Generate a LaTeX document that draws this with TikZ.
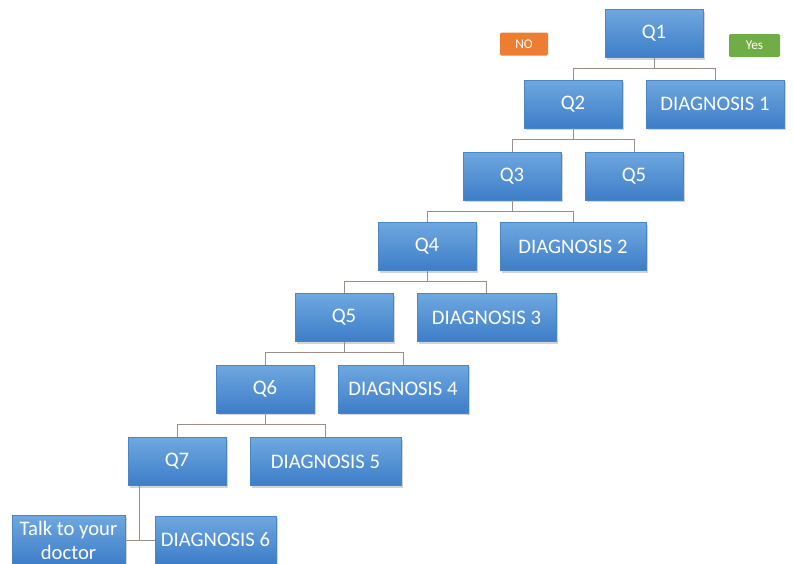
\documentclass[tikz,border=0pt]{standalone}
\usepackage{fontspec}
\setmainfont{Carlito}
\usetikzlibrary{shadows}

\definecolor{boxtop}{HTML}{6FA8E0}
\definecolor{boxbot}{HTML}{3D7DC8}
\definecolor{boxline}{HTML}{4A86C5}
\definecolor{noorange}{HTML}{ED7D31}
\definecolor{yesgreen}{HTML}{70AD47}
\definecolor{wire}{HTML}{9A9088}

\begin{document}
\begin{tikzpicture}[x=0.75pt,y=-0.75pt]
  % one unit = one pixel of the original picture
  \def\px{0.75pt}
  \tikzset{
    box/.style  = {draw=boxline, line width=0.4pt, top color=boxtop, bottom color=boxbot,
                   minimum width=#1*\px, minimum height=48*\px, inner sep=0pt,
                   text=white, font=\fontsize{15.5}{18}\selectfont, align=center,
                   drop shadow={shadow xshift=1.5pt, shadow yshift=-1.5pt, opacity=0.35}},
    box/.default = 98,
    tag/.style  = {fill=#1, minimum height=23*\px, inner sep=0pt, rounded corners=1pt,
                   text=white, font=\fontsize{10}{12}\selectfont},
    link/.style = {draw=wire, line width=0.6pt}
  }
  \useasboundingbox (0,0) rectangle (793,564);

  % ========= top: Q1 with the two answer tags =========
  \node[box] (q1) at (654,33.5) {Q1};
  \node[tag=noorange, minimum width=48*\px] (no) at (524,44) {NO};
  \node[tag=yesgreen, minimum width=51*\px] (yes) at (754.5,45.5) {Yes};

  % ========= the staircase of questions and diagnoses =========
  \node[box]      (q2) at (573,104)   {Q2};
  \node[box=138]  (d1) at (715,104)   {DIAGNOSIS 1};
  \node[box]      (q3) at (512,176)   {Q3};
  \node[box]      (q5b) at (634,176)  {Q5};
  \node[box]      (q4) at (427,246.5) {Q4};
  \node[box=146]  (d2) at (573,246.5) {DIAGNOSIS 2};
  \node[box]      (q5) at (344,317.5) {Q5};
  \node[box=139]  (d3) at (486.5,317.5) {DIAGNOSIS 3};
  \node[box]      (q6) at (265,389)   {Q6};
  \node[box=130]  (d4) at (403,389)   {DIAGNOSIS 4};
  \node[box]      (q7) at (177,461.5) {Q7};
  \node[box=151]  (d5) at (325.5,461.5) {DIAGNOSIS 5};

  % ========= bottom row =========
  \node[box=113, minimum height=49*\px] (talk) at (68.5,540) {Talk to your\\doctor};
  \node[box=121] (d6) at (215.5,540) {DIAGNOSIS 6};

  % ========= connectors (elbow from parent down to both children) =========
  \foreach \p/\a/\b in {q1/q2/d1, q2/q3/q5b, q3/q4/d2, q4/q5/d3, q5/q6/d4, q6/q7/d5} {
    \draw[link] (\p.south) -- ++(0,11) -| (\a.north);
    \draw[link] (\p.south) -- ++(0,11) -| (\b.north);
  }
  % Q7 drops straight down to the line between its two answers
  \coordinate (q7drop) at ([xshift=12*\px]q7.south west);
  \draw[link] (q7drop) -- (q7drop |- d6.west);
  \draw[link] (talk.east) -- (d6.west);
\end{tikzpicture}
\end{document}
